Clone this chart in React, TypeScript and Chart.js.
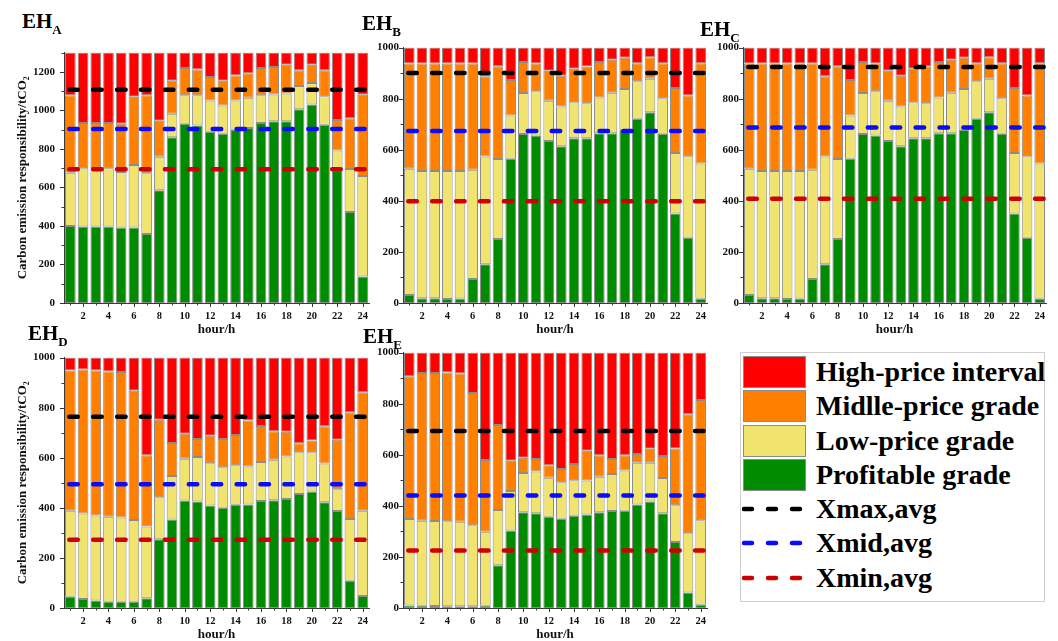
import { useEffect, useRef } from "react";
import { Chart, registerables } from "chart.js";

Chart.register(...registerables);

// Hours of the day (x categories)
const hours = [1, 2, 3, 4, 5, 6, 7, 8, 9, 10, 11, 12, 13, 14, 15, 16, 17, 18, 19, 20, 21, 22, 23, 24];

// y-axis tick values
const yTicks1300 = [0, 200, 400, 600, 800, 1000, 1200];
const yTicks1000 = [0, 200, 400, 600, 800, 1000];

// EH_A: upper bounds of the profitable / low-price / middle-price grades (tCO2)
const ehAProfitTop = [400, 397, 397, 397, 392, 392, 358, 586, 860, 930, 921, 889, 879, 899, 909, 935, 943, 943, 1006, 1031, 926, 689, 473, 137];
const ehALowTop = [676, 700, 700, 700, 680, 717, 673, 759, 982, 1078, 1078, 1051, 1026, 1051, 1065, 1078, 1082, 1088, 1126, 1142, 1073, 792, 696, 659];
const ehAMidTop = [1078, 935, 935, 935, 930, 1071, 1078, 946, 1154, 1220, 1212, 1173, 1154, 1181, 1193, 1220, 1225, 1237, 1208, 1237, 1208, 950, 959, 1081];

// EH_B and EH_C share the same grade bounds
const ehBProfitTop = [31, 19, 19, 16, 18, 94, 152, 251, 565, 662, 656, 634, 614, 645, 645, 665, 665, 678, 721, 747, 663, 350, 255, 17];
const ehBLowTop = [526, 517, 517, 517, 517, 522, 574, 564, 734, 822, 829, 792, 769, 786, 782, 805, 823, 838, 868, 878, 802, 587, 575, 546];
const ehBMidTop = [938, 938, 938, 938, 938, 938, 888, 927, 873, 944, 938, 909, 890, 917, 926, 944, 952, 960, 939, 962, 939, 842, 812, 939];

const ehDProfitTop = [45, 36, 30, 25, 25, 25, 39, 275, 353, 429, 425, 409, 400, 412, 413, 427, 430, 435, 455, 465, 422, 387, 109, 48];
const ehDLowTop = [388, 377, 369, 364, 361, 351, 325, 442, 527, 596, 603, 578, 562, 570, 565, 583, 592, 605, 622, 622, 577, 474, 355, 388];
const ehDMidTop = [948, 952, 948, 944, 942, 868, 610, 752, 659, 696, 675, 688, 675, 691, 749, 727, 706, 704, 658, 669, 726, 672, 782, 862];

const ehEProfitTop = [10, 9, 8, 7, 7, 7, 9, 167, 303, 375, 371, 357, 349, 361, 366, 375, 380, 381, 405, 417, 371, 258, 61, 13];
const ehELowTop = [348, 342, 341, 340, 338, 324, 299, 384, 458, 529, 534, 510, 492, 500, 499, 514, 525, 538, 569, 569, 509, 402, 293, 344];
const ehEMidTop = [907, 920, 920, 922, 918, 842, 579, 717, 577, 588, 583, 559, 544, 564, 616, 598, 583, 598, 603, 624, 595, 625, 759, 814];

// Average thresholds per hub: A, B, C, D, E
const hubNames = ["A", "B", "C", "D", "E"];
const xmaxAvg = [1107, 901, 924, 764, 693];
const xmidAvg = [904, 673, 687, 494, 440];
const xminAvg = [695, 398, 408, 273, 225];

// Legend entries
const gradeLabels = ["High-price interval", "Midlle-price grade", "Low-price grade", "Profitable grade"];
const avgLabels = ["Xmax,avg", "Xmid,avg", "Xmin,avg"];

const RED = "#FF0000";
const ORANGE = "#FF8000";
const YELLOW = "#F0E46E";
const GREEN = "#008C00";
const gradeColors = [RED, ORANGE, YELLOW, GREEN];
const avgColors = ["#000000", "#0A0AFF", "#CC0000"];
const AXIS = "#3a3a3a";
const TEXT = "#111111";
const FONT = "'Liberation Serif', 'Times New Roman', serif";

// Small outward tick marks on both axes (major + minor)
const tickMarks = {
  id: "tickMarks",
  afterDraw(chart: any) {
    const { ctx, chartArea } = chart;
    const xs = chart.scales.x;
    const ys = chart.scales.y;
    ctx.save();
    ctx.strokeStyle = AXIS;
    ctx.lineWidth = 1;
    ctx.beginPath();
    hours.forEach((h, i) => {
      const px = Math.round(xs.getPixelForValue(i)) + 0.5;
      ctx.moveTo(px, chartArea.bottom);
      ctx.lineTo(px, chartArea.bottom + (h % 2 === 0 ? 4 : 2.5));
    });
    const majors = ys.ticks.map((t: any) => t.value);
    const step = majors[1] - majors[0];
    for (let v = 0; v <= ys.max + 1e-6; v += step / 2) {
      const py = Math.round(ys.getPixelForValue(v)) + 0.5;
      const len = majors.includes(v) ? 4 : 2.5;
      ctx.moveTo(chartArea.left, py);
      ctx.lineTo(chartArea.left - len, py);
    }
    ctx.stroke();
    ctx.restore();
  },
};

type PanelProps = {
  hub: number;
  profitTop: number[];
  lowTop: number[];
  midTop: number[];
  yMax: number;
  yTicks: number[];
  left: number;
  top: number;
  width: number;
  height: number;
  axisWidth: number;
  labelPad: number;
  yTitle: boolean;
};

function Panel(p: PanelProps) {
  const ref = useRef<HTMLCanvasElement>(null);

  useEffect(() => {
    const avgLine = (label: string, value: number, color: string) => ({
      type: "line" as const,
      label,
      data: [
        { x: 0.5, y: value },
        { x: 24.5, y: value },
      ],
      xAxisID: "xl",
      yAxisID: "y",
      borderColor: color,
      borderWidth: 4.5,
      borderDash: [8.5, 15.4],
      borderDashOffset: 18.6,
      borderCapStyle: "round" as const,
      pointRadius: 0,
      order: 0,
    });
    const grade = (label: string, lo: (i: number) => number, hi: (i: number) => number, color: string) => ({
      type: "bar" as const,
      label,
      data: hours.map((_, i) => [lo(i), hi(i)]),
      backgroundColor: color,
      borderColor: "#8c8c8c",
      borderWidth: 1,
      borderSkipped: false,
      grouped: false,
      barPercentage: 0.84,
      categoryPercentage: 1,
      order: 1,
    });

    const chart = new Chart(ref.current as HTMLCanvasElement, {
      type: "bar",
      data: {
        labels: hours.map(String),
        datasets: [
          avgLine(avgLabels[0], xmaxAvg[p.hub], avgColors[0]),
          avgLine(avgLabels[1], xmidAvg[p.hub], avgColors[1]),
          avgLine(avgLabels[2], xminAvg[p.hub], avgColors[2]),
          grade(gradeLabels[3], () => 0, (i) => p.profitTop[i], GREEN),
          grade(gradeLabels[2], (i) => p.profitTop[i], (i) => p.lowTop[i], YELLOW),
          grade(gradeLabels[1], (i) => p.lowTop[i], (i) => p.midTop[i], ORANGE),
          grade(gradeLabels[0], (i) => p.midTop[i], () => p.yMax, RED),
        ] as any,
      },
      options: {
        animation: false,
        responsive: false,
        layout: { padding: { top: 10, right: 8, bottom: 0, left: 0 } },
        plugins: { legend: { display: false }, tooltip: { enabled: false } },
        scales: {
          x: {
            type: "category",
            offset: true,
            grid: { display: false, drawTicks: false },
            border: { display: true, color: AXIS, width: 1 },
            ticks: {
              autoSkip: false,
              maxRotation: 0,
              padding: 7,
              color: TEXT,
              font: { family: FONT, size: 10.5, weight: "bold" },
              callback: (_v: any, i: number) => (hours[i] % 2 === 0 ? String(hours[i]) : ""),
            },
            title: {
              display: true,
              text: "hour/h",
              color: TEXT,
              padding: 0,
              font: { family: FONT, size: 13, weight: "bold" },
            },
            afterFit: (s: any) => {
              s.height = 34;
            },
          },
          xl: { type: "linear", display: false, offset: false, min: 0.5, max: 24.5 },
          y: {
            min: 0,
            max: p.yMax,
            grid: { display: false, drawTicks: false },
            border: { display: true, color: AXIS, width: 1 },
            afterBuildTicks: (s: any) => {
              s.ticks = p.yTicks.map((v) => ({ value: v }));
            },
            ticks: {
              padding: p.labelPad,
              color: TEXT,
              font: { family: FONT, size: 11, weight: "bold" },
              callback: (v: any) => String(v),
            },
            title: {
              display: p.yTitle,
              text: "Carbon emission responsibility/tCO\u2082",
              color: TEXT,
              padding: { top: 15, bottom: 0 },
              font: { family: FONT, size: 13, weight: "bold" },
            },
            afterFit: (s: any) => {
              s.width = p.axisWidth;
            },
          },
        },
      } as any,
      plugins: [tickMarks],
    });
    return () => chart.destroy();
  }, []);

  return (
    <canvas
      ref={ref}
      width={p.width}
      height={p.height}
      style={{ position: "absolute", left: p.left, top: p.top, width: p.width, height: p.height }}
    />
  );
}

function HubLabel({ hub, left, top }: { hub: number; left: number; top: number }) {
  return (
    <div
      style={{
        position: "absolute",
        left,
        top,
        fontFamily: FONT,
        fontWeight: "bold",
        fontSize: 21,
        lineHeight: 1,
        color: "#000",
        whiteSpace: "nowrap",
      }}
    >
      EH<span style={{ fontSize: 13, position: "relative", top: 6 }}>{hubNames[hub]}</span>
    </div>
  );
}

function Legend() {
  const textStyle: any = {
    position: "absolute",
    left: 75,
    fontFamily: FONT,
    fontWeight: "bold",
    fontSize: 28,
    lineHeight: 1,
    color: "#000",
    whiteSpace: "nowrap",
  };
  const swatchCenters = [19, 53, 88, 122];
  const lineCenters = [156, 190, 225];
  return (
    <div
      style={{
        position: "absolute",
        left: 740,
        top: 352,
        width: 305,
        height: 250,
        boxSizing: "border-box",
        border: "1px solid #cfcfcf",
        background: "#fff",
      }}
    >
      {gradeLabels.map((label, i) => (
        <div key={label}>
          <div
            style={{
              position: "absolute",
              left: 2,
              top: swatchCenters[i] - 16,
              width: 63,
              height: 32,
              boxSizing: "border-box",
              border: "1px solid #8c8c8c",
              background: gradeColors[i],
            }}
          />
          <div style={{ ...textStyle, top: swatchCenters[i] - 14 }}>{label}</div>
        </div>
      ))}
      {avgLabels.map((label, i) => (
        <div key={label}>
          <svg
            width={62}
            height={10}
            style={{ position: "absolute", left: 1, top: lineCenters[i] - 5 }}
          >
            <line
              x1={2}
              y1={5}
              x2={60}
              y2={5}
              stroke={avgColors[i]}
              strokeWidth={4.5}
              strokeLinecap="round"
              strokeDasharray="8 16"
            />
          </svg>
          <div style={{ ...textStyle, top: lineCenters[i] - 14 }}>{label}</div>
        </div>
      ))}
    </div>
  );
}

export default function App() {
  return (
    <div
      style={{
        position: "absolute",
        left: 0,
        top: 0,
        width: 1058,
        height: 641,
        background: "#fff",
        overflow: "hidden",
      }}
    >
      <Panel hub={0} profitTop={ehAProfitTop} lowTop={ehALowTop} midTop={ehAMidTop} yMax={1300} yTicks={yTicks1300}
        left={0} top={37} width={377} height={300} axisWidth={64} labelPad={9} yTitle={true} />
      <Panel hub={1} profitTop={ehBProfitTop} lowTop={ehBLowTop} midTop={ehBMidTop} yMax={1000} yTicks={yTicks1000}
        left={363} top={37} width={352} height={300} axisWidth={40} labelPad={4} yTitle={false} />
      <Panel hub={2} profitTop={ehBProfitTop} lowTop={ehBLowTop} midTop={ehBMidTop} yMax={1000} yTicks={yTicks1000}
        left={703} top={37} width={351} height={300} axisWidth={40} labelPad={4} yTitle={false} />
      <Panel hub={3} profitTop={ehDProfitTop} lowTop={ehDLowTop} midTop={ehDMidTop} yMax={1000} yTicks={yTicks1000}
        left={0} top={342} width={377} height={300} axisWidth={64} labelPad={9} yTitle={true} />
      <Panel hub={4} profitTop={ehEProfitTop} lowTop={ehELowTop} midTop={ehEMidTop} yMax={1000} yTicks={yTicks1000}
        left={363} top={342} width={352} height={300} axisWidth={40} labelPad={4} yTitle={false} />
      <HubLabel hub={0} left={22} top={11} />
      <HubLabel hub={1} left={362} top={13} />
      <HubLabel hub={2} left={700} top={19} />
      <HubLabel hub={3} left={28} top={323} />
      <HubLabel hub={4} left={363} top={326} />
      <Legend />
    </div>
  );
}
